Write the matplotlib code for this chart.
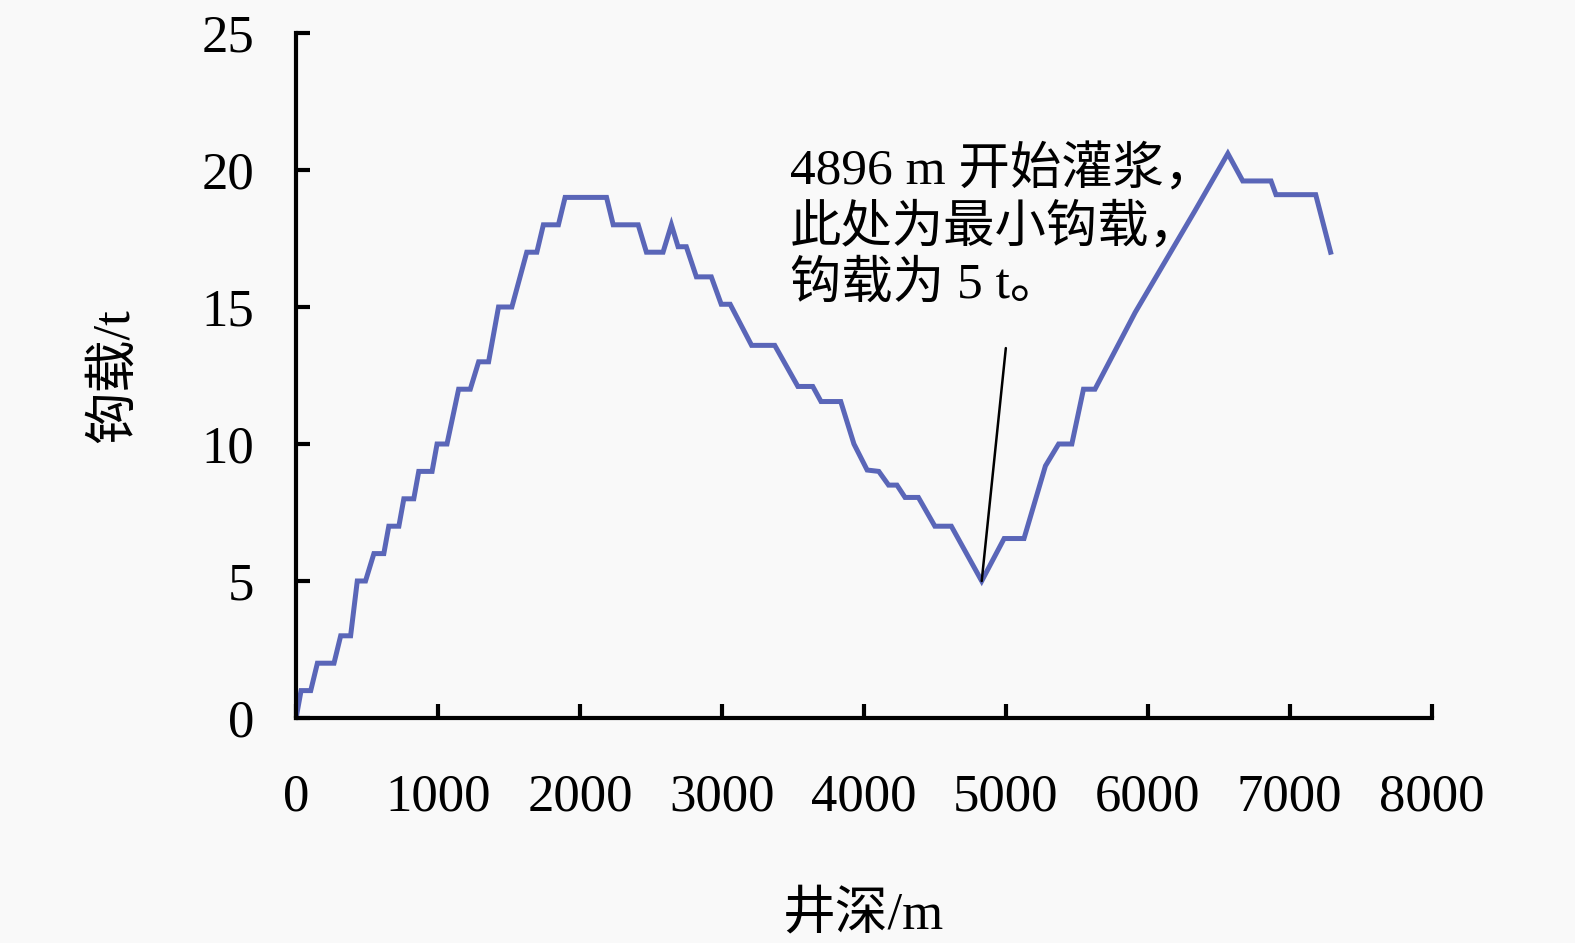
import matplotlib
matplotlib.use('Agg')
import matplotlib.pyplot as plt

# well depth (m) and hook load (t)
depth = [0, 35, 103, 150, 267, 314, 384, 431, 489, 548, 618, 653, 724, 759, 829,
         864, 958, 993, 1063, 1145, 1227, 1286, 1356, 1426, 1520, 1625, 1696, 1742,
         1848, 1895, 2187, 2234, 2410, 2468, 2585, 2644, 2691, 2749, 2820, 2925,
         2995, 3058, 3209, 3372, 3535, 3640, 3698, 3837, 3930, 4023, 4105, 4174,
         4233, 4290, 4384, 4500, 4616, 4830, 4988, 5128, 5279, 5372, 5465, 5547,
         5628, 5911, 6331, 6564, 6669, 6868, 6903, 7183, 7288]
hook = [0, 1, 1, 2, 2, 3, 3, 5, 5, 6, 6, 7, 7, 8, 8,
        9, 9, 10, 10, 12, 12, 13, 13, 15, 15, 17, 17, 18,
        18, 19, 19, 18, 18, 17, 17, 18, 17.2, 17.2, 16.1, 16.1,
        15.1, 15.1, 13.6, 13.6, 12.1, 12.1, 11.55, 11.55, 10, 9.05, 9.0, 8.5,
        8.5, 8.05, 8.05, 7.0, 7.0, 5.0, 6.55, 6.55, 9.2, 10, 10, 12,
        12, 14.8, 18.5, 20.6, 19.6, 19.6, 19.1, 19.1, 17.0]

min_depth = 4830
min_hook = 5.0
note = '4896 m 开始灌浆，\n此处为最小钩载，\n钩载为 5 t。'

fonts = ['Liberation Serif', 'Noto Sans CJK SC']
plt.rcParams['font.family'] = fonts

fig = plt.figure(figsize=(15.75, 9.43), dpi=100, facecolor='#f9f9f9')
ax = fig.add_axes([0.188, 0.2386, 0.721, 0.7264])
ax.set_facecolor('#f9f9f9')

ax.plot(depth, hook, color='#5a66b8', lw=3.6, solid_joinstyle='miter')

ax.annotate('', xy=(min_depth, min_hook), xytext=(5000, 13.5),
            arrowprops=dict(arrowstyle='-', color='black', lw=1.8, shrinkA=0, shrinkB=0))
ax.text(3480, 20.85, note, fontsize=37, va='top', ha='left', linespacing=1.22)

ax.set_xlim(0, 8000)
ax.set_ylim(0, 25)
ax.set_xticks(range(0, 8001, 1000))
ax.set_yticks(range(0, 26, 5))

for s in ['top', 'right']:
    ax.spines[s].set_visible(False)
for s in ['left', 'bottom']:
    ax.spines[s].set_linewidth(3)
ax.tick_params(direction='in', length=10, width=3, labelsize=38)
ax.tick_params(axis='x', pad=40)
ax.tick_params(axis='y', pad=30)

ax.set_xlabel('井深/m', fontsize=38, labelpad=50)
ax.set_ylabel('钩载/t', fontsize=38, labelpad=45)

plt.savefig('out.png', dpi=100, facecolor=fig.get_facecolor())
plt.close()
